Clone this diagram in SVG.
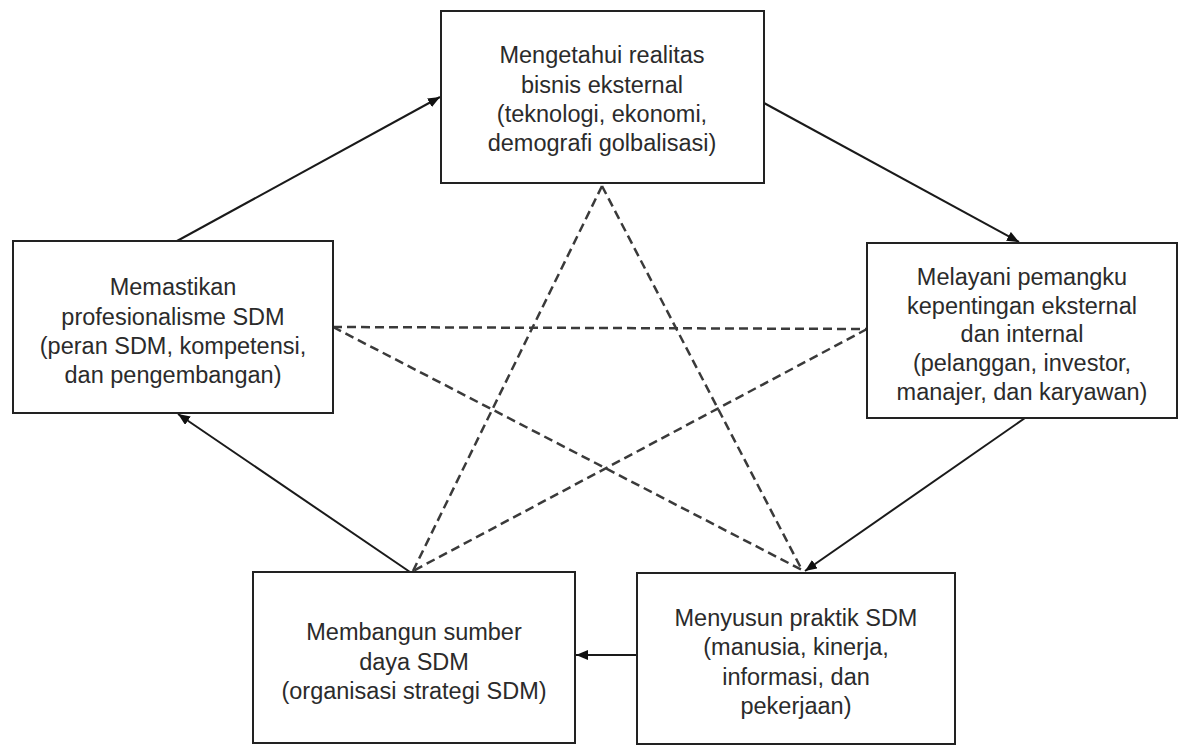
<svg xmlns="http://www.w3.org/2000/svg" width="1182" height="746" viewBox="0 0 1182 746">
<style>
.box{fill:#fff;stroke:#222;stroke-width:2}
.t{font-family:"Liberation Sans",Arial,sans-serif;font-size:23.5px;fill:#2b2b2b;text-anchor:middle}
.arr{stroke:#1a1a1a;stroke-width:2;fill:none;marker-end:url(#ah)}
.dash{stroke:#3a3a3a;stroke-width:2.5;fill:none;stroke-dasharray:9 5}
</style>
<defs>
<marker id="ah" viewBox="0 0 12 10" refX="12" refY="5" markerWidth="12" markerHeight="10" markerUnits="userSpaceOnUse" orient="auto">
<path d="M0,0 L12,5 L0,10 Z" fill="#111"/>
</marker>
</defs>
<rect width="1182" height="746" fill="#fff"/>
<g id="connectors">
<path class="dash" d="M602,186 L413,571"/>
<path class="dash" d="M602,186 L802,570"/>
<path class="dash" d="M333,327 L867,329"/>
<path class="dash" d="M333,327 L802,570"/>
<path class="dash" d="M867,329 L413,571"/>
<path class="arr" d="M177,241 L440,97"/>
<path class="arr" d="M764,103 L1019,242"/>
<path class="arr" d="M1025,418 L805,571"/>
<path class="arr" d="M637,655 L576,655"/>
<path class="arr" d="M410,572 L178,414"/>
</g>
<g id="node-top">
<rect class="box" x="441" y="11" width="323" height="172"/>
<text class="t" x="602" y="63">Mengetahui realitas</text>
<text class="t" x="602" y="93">bisnis eksternal</text>
<text class="t" x="602" y="122">(teknologi, ekonomi,</text>
<text class="t" x="602" y="151">demografi golbalisasi)</text>
</g>
<g id="node-left">
<rect class="box" x="13" y="241" width="320" height="172"/>
<text class="t" x="173" y="295">Memastikan</text>
<text class="t" x="173" y="325">profesionalisme SDM</text>
<text class="t" x="173" y="354">(peran SDM, kompetensi,</text>
<text class="t" x="173" y="383">dan pengembangan)</text>
</g>
<g id="node-right">
<rect class="box" x="867" y="243" width="310" height="175"/>
<text class="t" x="1022" y="285">Melayani pemangku</text>
<text class="t" x="1022" y="314">kepentingan eksternal</text>
<text class="t" x="1022" y="342">dan internal</text>
<text class="t" x="1022" y="371">(pelanggan, investor,</text>
<text class="t" x="1022" y="400">manajer, dan karyawan)</text>
</g>
<g id="node-bottom-left">
<rect class="box" x="253" y="572" width="322" height="171"/>
<text class="t" x="414" y="640">Membangun sumber</text>
<text class="t" x="414" y="670">daya SDM</text>
<text class="t" x="414" y="699">(organisasi strategi SDM)</text>
</g>
<g id="node-bottom-right">
<rect class="box" x="637" y="573" width="318" height="171"/>
<text class="t" x="796" y="626">Menyusun praktik SDM</text>
<text class="t" x="796" y="655">(manusia, kinerja,</text>
<text class="t" x="796" y="685">informasi, dan</text>
<text class="t" x="796" y="714">pekerjaan)</text>
</g>
</svg>
